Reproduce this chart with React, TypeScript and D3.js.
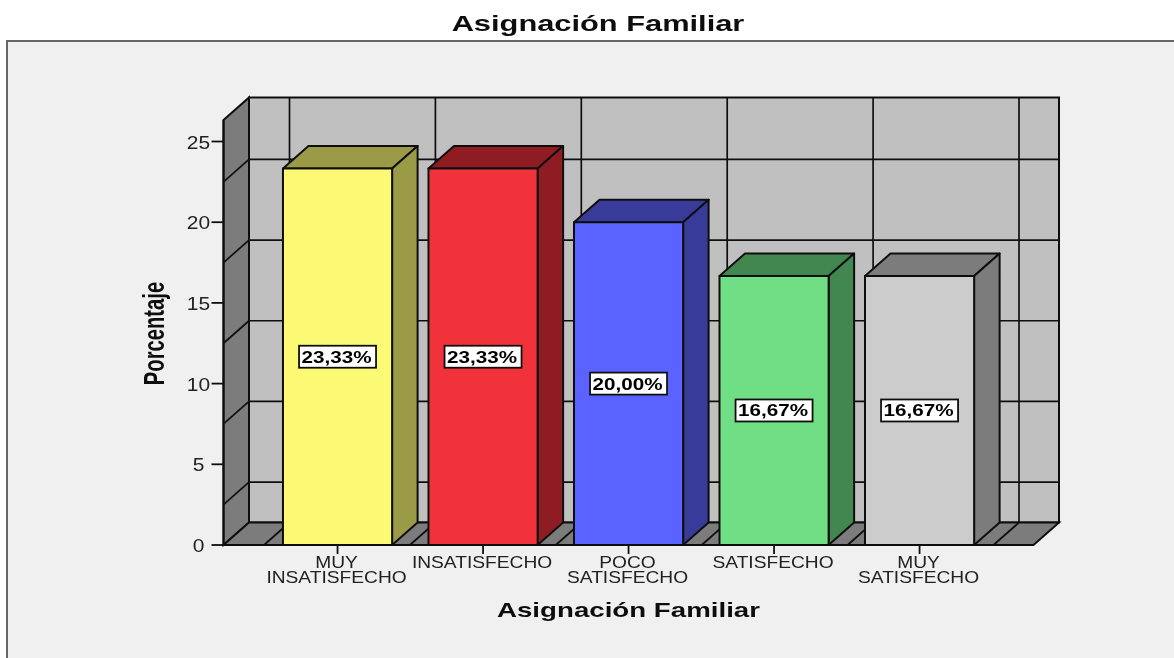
import React from "react";
import * as d3 from "d3";

const categories = ["MUY INSATISFECHO", "INSATISFECHO", "POCO SATISFECHO", "SATISFECHO", "MUY SATISFECHO"];
const categoryLines = [["MUY", "INSATISFECHO"], ["INSATISFECHO"], ["POCO", "SATISFECHO"], ["SATISFECHO"], ["MUY", "SATISFECHO"]];
const percentages = [23.33, 23.33, 20.0, 16.67, 16.67];
const valueLabels = ["23,33%", "23,33%", "20,00%", "16,67%", "16,67%"];
const frontColors = ["#fcf974", "#f2333a", "#5a62ff", "#70de85", "#cccccc"];
const sideColors = ["#9a9a46", "#8f1d21", "#373b99", "#43874f", "#7b7b7b"];
const yTicks = [0, 5, 10, 15, 20, 25];
const gridValues = [2.5, 7.5, 12.5, 17.5, 22.5];
const xGridIndex = [0, 1, 2, 3, 4, 5];

const W = 1174, H = 658;
const DX = 25.5, DY = 22.5;
const FONT = "'Liberation Sans', Arial, sans-serif";
const INK = "#111";

const y = d3.scaleLinear().domain([0, 25]).range([545, 141.5]);
const x = d3.scaleBand<string>().domain(categories).range([246.6, 1010.5]).padding(0.25);
const gridX = d3.scaleLinear().domain([0, 5]).range([289.5, 1019]);
const wallTop = 120;
const left = 223.5, right = 1033.5;
const poly = (p: [number, number][]) => (d3.line()(p) as string) + "Z";

function StretchText({ cx, cy, sx, sy = 1, size, weight, children, fill = "#222", rotate = 0 }: any) {
  return (
    <text
      transform={`translate(${cx},${cy}) rotate(${rotate}) scale(${sx},${sy})`}
      textAnchor="middle"
      fontFamily={FONT}
      fontSize={size}
      fontWeight={weight}
      fill={fill}
    >
      {children}
    </text>
  );
}

export default function App() {
  const base = y(0);
  const band = x.bandwidth();
  return (
    <svg width={W} height={H} style={{ position: "absolute", left: 0, top: 0, display: "block" }}>
      <defs>
        <filter id="soft" x="0" y="0" width={W} height={H} filterUnits="userSpaceOnUse">
          <feGaussianBlur stdDeviation="0.6" />
        </filter>
      </defs>
      <g filter="url(#soft)">
        <rect x={0} y={0} width={W} height={H} fill="#fff" />
        <rect x={7} y={41} width={W - 7} height={H - 41} fill="#f0f0f0" />
        <path d={`M7,${H}V41H${W}`} fill="none" stroke="#666" strokeWidth={2} />
        <StretchText cx={598} cy={30.5} sx={1.37} size={22.5} weight="bold" fill="#111">Asignación Familiar</StretchText>

        {/* back wall */}
        <rect x={left + DX} y={wallTop - DY} width={right - left} height={base - wallTop} fill="#c0c0c0" stroke={INK} strokeWidth={2} />
        {/* left wall */}
        <path d={poly([[left, wallTop], [left + DX, wallTop - DY], [left + DX, base - DY], [left, base]])} fill="#7b7b7b" stroke={INK} strokeWidth={2} />
        {/* floor */}
        <path d={poly([[left, base], [left + DX, base - DY], [right + DX, base - DY], [right, base]])} fill="#7b7b7b" stroke={INK} strokeWidth={2} />

        {/* grid */}
        {gridValues.map((v) => (
          <g key={v} stroke={INK} strokeWidth={1.7} fill="none">
            <line x1={left} y1={y(v)} x2={left + DX} y2={y(v) - DY} />
            <line x1={left + DX} y1={y(v) - DY} x2={right + DX} y2={y(v) - DY} />
          </g>
        ))}
        {xGridIndex.map((i) => {
          const gx = gridX(i);
          return (
            <g key={i} stroke={INK} strokeWidth={1.7} fill="none">
              <line x1={gx} y1={wallTop - DY} x2={gx} y2={base - DY} />
              <line x1={gx} y1={base - DY} x2={gx - DX} y2={base} />
            </g>
          );
        })}

        {/* bars */}
        {categories.map((c, i) => {
          const x0 = x(c) as number;
          const x1 = x0 + band;
          const top = y(percentages[i]);
          return (
            <g key={c} stroke={INK} strokeWidth={2} strokeLinejoin="round">
              <path d={poly([[x0, top], [x0 + DX, top - DY], [x1 + DX, top - DY], [x1, top]])} fill={sideColors[i]} />
              <path d={poly([[x1, top], [x1 + DX, top - DY], [x1 + DX, base - DY], [x1, base]])} fill={sideColors[i]} />
              <rect x={x0} y={top} width={band} height={base - top} fill={frontColors[i]} />
            </g>
          );
        })}

        {/* axes */}
        <line x1={left} y1={base} x2={right} y2={base} stroke={INK} strokeWidth={2} />
        <line x1={left} y1={wallTop} x2={left} y2={base} stroke={INK} strokeWidth={2} />
        {yTicks.map((t) => (
          <g key={t}>
            <line x1={left - 12} y1={y(t)} x2={left} y2={y(t)} stroke={INK} strokeWidth={1.8} />
            <StretchText cx={198.5} cy={y(t) + 7} sx={1.2} size={17.5} fill="#222">{t}</StretchText>
          </g>
        ))}
        {categories.map((c, i) => {
          const cx = (x(c) as number) + band / 2;
          return (
            <g key={c}>
              <line x1={cx} y1={base} x2={cx} y2={base + 9} stroke={INK} strokeWidth={1.8} />
              {categoryLines[i].map((ln, k) => (
                <StretchText key={ln} cx={cx - 1} cy={568 + k * 15} sx={1.2} size={16} fill="#222">{ln}</StretchText>
              ))}
            </g>
          );
        })}

        {/* value labels */}
        {categories.map((c, i) => {
          const cx = (x(c) as number) + band / 2;
          const cy = y(percentages[i] / 2);
          return (
            <g key={c}>
              <rect x={cx - 38.5} y={cy - 11} width={77} height={22} fill="#fff" stroke={INK} strokeWidth={1.8} />
              <StretchText cx={cx - 1} cy={cy + 6} sx={1.25} size={16.5} weight="bold" fill="#000">{valueLabels[i]}</StretchText>
            </g>
          );
        })}

        <StretchText cx={628.5} cy={617} sx={1.42} size={19.5} weight="bold" fill="#111">Asignación Familiar</StretchText>
        <StretchText cx={164} cy={333.5} sx={0.92} sy={1.3} size={22} weight="bold" fill="#111" rotate={-90}>Porcentaje</StretchText>
      </g>
    </svg>
  );
}
